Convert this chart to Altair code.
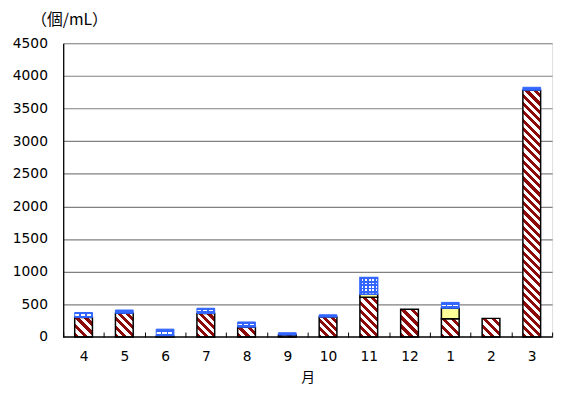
import math
import altair as alt
import pandas as pd

# ---------------- data ----------------
months = ["4", "5", "6", "7", "8", "9", "10", "11", "12", "1", "2", "3"]
red_vals = [300, 363, 10, 360, 150, 30, 305, 610, 425, 280, 285, 3780]
yellow_vals = [0, 0, 0, 0, 0, 0, 0, 45, 0, 160, 0, 0]
blue_vals = [75, 50, 110, 80, 80, 35, 35, 255, 0, 90, 0, 45]
blue_style = ["dash", "solid", "dash", "dash", "dash", "solid", "solid", "dot",
              "none", "dash", "none", "solid"]
y_ticks = [0, 500, 1000, 1500, 2000, 2500, 3000, 3500, 4000, 4500]

# ---------------- geometry / style ----------------
W, H, YMAX = 496, 298, 4500
BAR_W = 18
MAROON = "#8c0a0a"
YELLOW = "#ffff99"
BLUE = "#3366ff"
NUM_FONT = "DejaVu Sans"
CJK_FONT = "Noto Sans CJK JP"
FS = 14

rows = []
for i, m in enumerate(months):
    base = 0
    for kind, v in (("red", red_vals[i]), ("yellow", yellow_vals[i]), ("blue", blue_vals[i])):
        if v > 0:
            rows.append({"seg": f"{kind}{i}", "kind": kind, "month": m,
                         "y0": base, "y1": base + v, "v": v,
                         "style": blue_style[i] if kind == "blue" else kind})
            base += v
df = pd.DataFrame(rows)


def stripe_gradient(h_px, w_px, c1, c2, period=6.0):
    r = max(h_px, 0.5) / w_px
    dx = (1 + r) / (1 + r * r)
    dy = -r * (1 + r) / (1 + r * r)
    L = (w_px + h_px) / math.sqrt(2)
    n = max(1, int(round(L / period)))
    stops = []
    for k in range(n):
        a, b, c = k / n, (k + 0.5) / n, (k + 1) / n
        stops += [{"offset": a, "color": c1}, {"offset": b, "color": c1},
                  {"offset": b, "color": c2}, {"offset": c, "color": c2}]
    return {"gradient": "linear", "x1": 0, "y1": 1, "x2": dx, "y2": 1 + dy,
            "stops": stops}


def band_gradient(n, c1, c2, vertical=True, frac=0.5):
    stops = []
    for k in range(n):
        a, b, c = k / n, (k + frac) / n, (k + 1) / n
        stops += [{"offset": a, "color": c1}, {"offset": b, "color": c1},
                  {"offset": b, "color": c2}, {"offset": c, "color": c2}]
    if vertical:
        return {"gradient": "linear", "x1": 0, "y1": 0, "x2": 0, "y2": 1, "stops": stops}
    return {"gradient": "linear", "x1": 0, "y1": 0, "x2": 1, "y2": 0, "stops": stops}


x_axis = alt.Axis(labelAngle=0, domain=False, tickBand="extent",
                  tickSize=5, tickColor="#000000", tickWidth=1,
                  offset=-5, labelPadding=13,
                  labelFont=NUM_FONT, labelFontSize=FS, labelColor="#000000",
                  titleFont=CJK_FONT, titleFontSize=FS, titleFontWeight="normal",
                  titleColor="#000000", titlePadding=7)
y_axis = alt.Axis(values=y_ticks, ticks=False, domainColor="#000000",
                  domainWidth=1.3, gridColor="#808080", gridWidth=1.2,
                  labelOverlap=False, format="d",
                  labelPadding=16, labelFont=NUM_FONT, labelFontSize=FS,
                  labelColor="#000000",
                  titleFont=CJK_FONT, titleFontSize=16, titleFontWeight="normal",
                  titleColor="#000000", titleAngle=0, titleAlign="left",
                  titleBaseline="middle", titleX=-33, titleY=-24)
y_scale = alt.Scale(domain=[0, YMAX], nice=False, zero=True)
x_enc = alt.X("month:N", sort=months, title="月",
              scale=alt.Scale(domain=months, paddingInner=0, paddingOuter=0),
              axis=x_axis)
y_enc = alt.Y("y0:Q", title="（個/mL）", scale=y_scale, axis=y_axis)
y2_enc = alt.Y2("y1:Q")

layers = []
for _, row in df.iterrows():
    h_px = row["v"] * H / YMAX
    base = alt.Chart().transform_filter(alt.datum.seg == row["seg"])
    if row["kind"] == "red":
        fill = stripe_gradient(h_px, BAR_W, MAROON, "#ffffff")
        layers.append(base.mark_bar(width=BAR_W, fill=fill, stroke="#000000",
                                    strokeWidth=1.5).encode(x=x_enc, y=y_enc, y2=y2_enc))
    elif row["kind"] == "yellow":
        layers.append(base.mark_bar(width=BAR_W, fill=YELLOW, stroke="#000000",
                                    strokeWidth=1.5).encode(x=x_enc, y=y_enc, y2=y2_enc))
    else:
        st = row["style"]
        if st == "solid":
            layers.append(base.mark_bar(width=BAR_W, fill=BLUE, stroke=BLUE,
                                        strokeWidth=1).encode(x=x_enc, y=y_enc, y2=y2_enc))
        elif st == "dash":
            under = {"gradient": "linear", "x1": 0, "y1": 0, "x2": 0, "y2": 1,
                     "stops": [{"offset": 0, "color": BLUE}, {"offset": 0.38, "color": BLUE},
                               {"offset": 0.38, "color": "#ffffff"}, {"offset": 0.62, "color": "#ffffff"},
                               {"offset": 0.62, "color": BLUE}, {"offset": 1, "color": BLUE}]}
            over = band_gradient(3, "rgba(51,102,255,0)", BLUE, vertical=False, frac=0.75)
            layers.append(base.mark_bar(width=BAR_W, fill=under, stroke=BLUE,
                                        strokeWidth=1).encode(x=x_enc, y=y_enc, y2=y2_enc))
            layers.append(base.mark_bar(width=BAR_W, fill=over, strokeWidth=0)
                          .encode(x=x_enc, y=y_enc, y2=y2_enc))
        else:  # dotted
            n_rows = max(1, int(round(h_px / 3.2)))
            under = band_gradient(n_rows, BLUE, "#ffffff", vertical=True, frac=0.5)
            over = band_gradient(int(BAR_W / 3.2), BLUE, "rgba(51,102,255,0)",
                                 vertical=False, frac=0.5)
            layers.append(base.mark_bar(width=BAR_W, fill=under, stroke=BLUE,
                                        strokeWidth=1.5).encode(x=x_enc, y=y_enc, y2=y2_enc))
            layers.append(base.mark_bar(width=BAR_W, fill=over, strokeWidth=0)
                          .encode(x=x_enc, y=y_enc, y2=y2_enc))

baseline = (alt.Chart().transform_filter(alt.datum.seg == "red0")
            .transform_calculate(zero="0")
            .mark_rule(color="#000000", strokeWidth=1.3)
            .encode(y=alt.Y("zero:Q", title="（個/mL）", scale=y_scale, axis=y_axis)))
layers.append(baseline)

chart = alt.layer(*layers, data=df).properties(
    width=W, height=H,
    autosize=alt.AutoSizeParams(type="none"),
    padding={"left": 56, "top": 33, "right": 9, "bottom": 47},
).configure_view(strokeWidth=0).configure(background="#ffffff")

chart.save("out.html", embed_options={"renderer": "svg", "actions": False})
